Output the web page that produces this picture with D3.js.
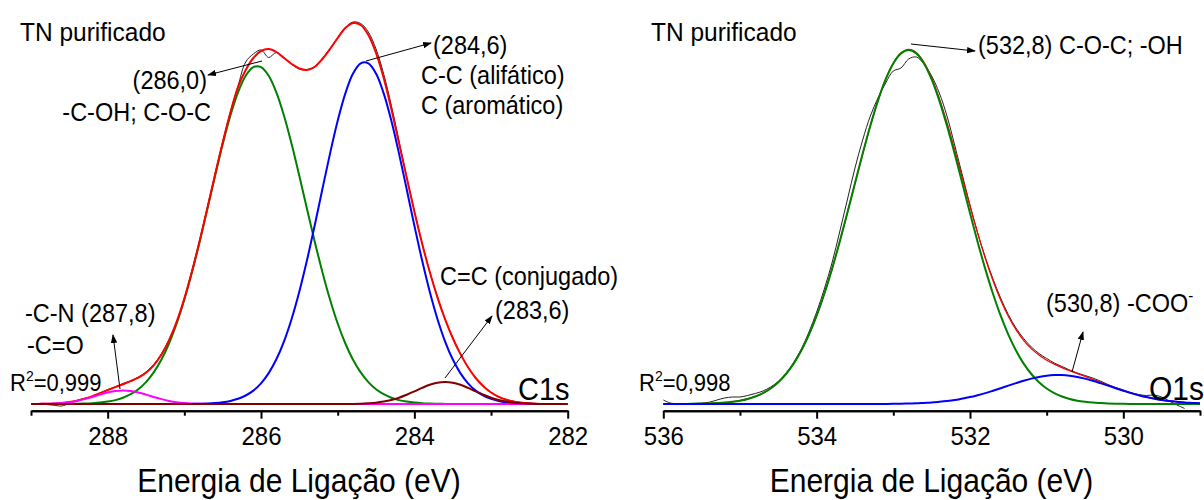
<!DOCTYPE html>
<html><head><meta charset="utf-8">
<script src="https://cdn.jsdelivr.net/npm/d3@7"></script>
<style>
body{margin:0;background:#fff}
svg{display:block}
text{font-family:"Liberation Sans",Arial,sans-serif;fill:#000}
</style>
</head><body>
<svg id="chart" width="1204" height="500"></svg>
<script>
// ---------------- DATA ----------------
// C1s panel: binding energy (eV) and intensities (a.u.)
const c1sEnergy = [289.0,288.9,288.8,288.7,288.6,288.5,288.4,288.3,288.2,288.1,
288.0,287.9,287.8,287.7,287.6,287.5,287.4,287.3,287.2,287.1,
287.0,286.9,286.8,286.7,286.6,286.5,286.4,286.3,286.2,286.1,
286.0,285.9,285.8,285.7,285.6,285.5,285.4,285.3,285.2,285.1,
285.0,284.9,284.8,284.7,284.6,284.5,284.4,284.3,284.2,284.1,
284.0,283.9,283.8,283.7,283.6,283.5,283.4,283.3,283.2,283.1,
283.0,282.9,282.8,282.7,282.6,282.5,282.4,282.3,282.2,282.1,282.0];
const c1sMeasured = [0.3,0.1,-0.5,-1.2,-2.0,0.8,3.6,5.8,7.5,10.5,
14.5,17.2,20.5,23.2,27.0,32.0,39.5,50.0,64.5,82.0,
105.0,133.5,163.5,196.5,229.5,262.0,292.0,318.0,342.0,350.0,
354.0,346.5,351.5,346.5,340.0,335.0,334.5,337.5,345.5,355.5,
366.5,376.5,382.0,380.5,372.0,355.0,330.0,298.5,263.0,227.5,
193.0,161.0,132.5,107.5,85.0,66.5,50.5,37.0,26.5,18.0,
11.8,7.5,4.5,2.8,1.5,1.0,0.5,0.3,0.2,0.1,0];
const c1sEnvelope = [0,0.1,0.2,0.5,1.0,1.9,3.4,5.4,7.8,10.8,
13.9,16.9,19.8,22.8,26.3,31.3,38.6,49.2,63.6,82.3,
105.5,132.7,163.1,195.7,229.0,261.5,291.3,316.8,334,346,
353,355,352,346,340,335.5,334,337,345,355,
366,376,381,379,369,351,326,295,260.6,226.4,
192.5,160.8,132.2,106.9,84.8,66.0,50.1,36.8,26.0,17.8,
11.5,7.1,4.2,2.3,1.2,0.6,0.2,0,0,0,0];
const c1sPeak2860 = [0,0,0,0,0,0.1,0.3,0.5,0.8,1.4,
2.4,3.9,6.3,9.8,14.8,21.9,31.6,44.3,60.5,80.5,
104.5,132.1,162.6,195.1,228.0,259.7,288.2,311.6,328.3,336.9,
336.9,328.3,311.6,288.2,259.7,228.0,195.1,162.6,132.1,104.5,
80.5,60.5,44.3,31.6,21.9,14.8,9.8,6.3,3.9,2.4,
1.4,0.8,0.5,0.3,0.1,0,0,0,0,0,
0,0,0,0,0,0,0,0,0,0,0];
const c1sPeak2846 = [0,0,0,0,0,0,0,0,0,0,
0,0,0,0,0,0,0,0,0,0,
0,0.1,0.3,0.5,1.0,1.8,3.1,5.2,8.5,13.4,
20.7,30.9,44.7,62.7,85.3,112.5,143.9,178.5,214.7,250.4,
283.2,310.6,330.4,340.7,340.7,330.4,310.6,283.2,250.4,214.7,
178.5,143.9,112.5,85.3,62.7,44.7,30.9,20.7,13.4,8.5,
5.2,3.1,1.8,1.0,0.5,0.3,0.1,0,0,0,0];
const c1sPeak2878 = [0,0.1,0.2,0.5,1.0,1.8,3.1,4.9,7.0,9.4,
11.5,13.0,13.5,13.0,11.5,9.4,7.0,4.9,3.1,1.8,
1.0,0.5,0.2,0.1,0,0,0,0,0,0,
0,0,0,0,0,0,0,0,0,0,
0,0,0,0,0,0,0,0,0,0,
0,0,0,0,0,0,0,0,0,0,
0,0,0,0,0,0,0,0,0,0,0];
const c1sPeak2836 = [0,0,0,0,0,0,0,0,0,0,
0,0,0,0,0,0,0,0,0,0,
0,0,0,0,0,0,0,0,0,0,
0,0,0,0,0,0,0,0,0,0,
0,0,0.1,0.3,0.7,1.3,2.4,4.0,6.3,9.3,
12.6,16.1,19.2,21.3,22.0,21.3,19.2,16.1,12.6,9.3,
6.3,4.0,2.4,1.3,0.7,0.3,0.1,0,0,0,0];
const c1sMajorTicks = [288,286,284,282];
const c1sMinorTicks = [289,287,285,283];

// O1s panel
const o1sEnergy = [536.0,535.9,535.8,535.7,535.6,535.5,535.4,535.3,535.2,535.1,
535.0,534.9,534.8,534.7,534.6,534.5,534.4,534.3,534.2,534.1,
534.0,533.9,533.8,533.7,533.6,533.5,533.4,533.3,533.2,533.1,
533.0,532.9,532.8,532.7,532.6,532.5,532.4,532.3,532.2,532.1,
532.0,531.9,531.8,531.7,531.6,531.5,531.4,531.3,531.2,531.1,
531.0,530.9,530.8,530.7,530.6,530.5,530.4,530.3,530.2,530.1,
530.0,529.9,529.8,529.7,529.6,529.5,529.4,529.3,529.2,529.1,529.0];
const o1sMeasured = [4.0,0.8,0.2,0.3,0.6,1.0,1.8,4.0,6.0,7.0,
7.0,8.5,10.5,13.0,17.0,22.5,30.5,41.5,55.0,72.0,
92.0,115.0,141.0,172.0,204.0,236.0,264.0,288.0,306.0,321.0,
333.0,336.0,345.0,347.0,340.0,328.0,311.0,288.0,259.0,229.0,
199.0,171.0,146.5,125.0,106.0,89.5,76.0,65.5,57.0,50.5,
45.5,41.0,37.5,34.0,31.0,28.5,26.0,23.0,19.5,16.5,
14.0,11.5,9.5,8.5,9.0,7.0,3.0,-1.0,-4.5,null,null];
const o1sEnvelope = [0,0,0.1,0.1,0.2,0.3,0.5,0.9,1.4,2.2,
3.3,5.0,7.5,10.9,15.5,21.8,30.0,40.4,53.5,69.4,
88.3,110.2,134.9,162.1,190.9,220.7,250.2,278.2,303.5,324.7,
340.8,350.9,354.5,351.3,341.7,326.1,305.6,281.2,254.2,226.1,
197.8,170.9,145.8,123.5,104.1,87.8,74.4,63.7,55.4,48.9,
43.8,39.8,36.4,33.3,30.4,27.6,24.7,21.8,18.9,16.1,
13.5,11.0,8.9,6.9,5.4,4.0,3.0,2.2,1.5,1.1,0.7];
const o1sPeak5328 = [0,0,0.1,0.1,0.2,0.3,0.5,0.9,1.4,2.2,
3.3,5.0,7.5,10.9,15.5,21.8,30.0,40.4,53.5,69.4,
88.3,110.2,134.9,162.1,190.9,220.7,250.2,278.2,303.4,324.6,
340.6,350.6,354.0,350.6,340.6,324.6,303.4,278.2,250.2,220.7,
190.9,162.1,134.9,110.2,88.3,69.4,53.5,40.4,30.0,21.8,
15.5,10.9,7.5,5.0,3.3,2.2,1.4,0.9,0.5,0.3,
0.2,0.1,0.1,0,0,0,0,0,0,0,0];
const o1sPeak5308 = [0,0,0,0,0,0,0,0,0,0,
0,0,0,0,0,0,0,0,0,0,
0,0,0,0,0,0,0,0,0.1,0.1,
0.2,0.3,0.5,0.7,1.1,1.5,2.2,3.0,4.0,5.4,
6.9,8.8,10.9,13.3,15.8,18.4,20.9,23.3,25.4,27.1,
28.3,28.9,28.9,28.3,27.1,25.4,23.3,20.9,18.4,15.8,
13.3,10.9,8.8,6.9,5.4,4.0,3.0,2.2,1.5,1.1,0.7];
const o1sMajorTicks = [536,534,532,530];
const o1sMinorTicks = [535,533,531,529];

// ---------------- DRAWING ----------------
const svg = d3.select("#chart");
svg.append("rect").attr("width",1204).attr("height",500).attr("fill","#fff");

const defs = svg.append("defs");
defs.append("marker").attr("id","arrow")
  .attr("viewBox","0 -4 9 8").attr("refX",8).attr("refY",0)
  .attr("markerWidth",9).attr("markerHeight",8)
  .attr("markerUnits","userSpaceOnUse").attr("orient","auto")
  .append("path").attr("d","M0,-3.2L9,0L0,3.2Z").attr("fill","#000");

const TALL = 1.08; // the reference glyphs are slightly taller than Arial
const y = d3.scaleLinear().domain([0,400]).range([404,4]);
const axisY = 410.7;

const xL = d3.scaleLinear().domain([289,282]).range([31,567.7]);
const xR = d3.scaleLinear().domain([536,529]).range([663.3,1200]);

function drawCurve(g, xs, energy, vals, color, width){
  const line = d3.line()
    .defined(d => d !== null)
    .x((d,i) => xs(energy[i]))
    .y(d => y(d))
    .curve(d3.curveCatmullRom.alpha(0.5));
  g.append("path").datum(vals)
    .attr("d", line)
    .attr("fill","none")
    .attr("stroke", color)
    .attr("stroke-width", width)
    .attr("stroke-linejoin","round");
}

function drawAxis(xs, major, minor){
  const g = svg.append("g").attr("transform",`translate(0,${axisY})`);
  g.call(d3.axisBottom(xs).tickValues(minor).tickSize(5).tickSizeOuter(0).tickFormat(""));
  const gm = svg.append("g").attr("transform",`translate(0,${axisY})`);
  gm.call(d3.axisBottom(xs).tickValues(major).tickSize(8).tickSizeOuter(0).tickFormat(d3.format("d")));
  [g, gm].forEach(a => {
    a.select(".domain").attr("stroke","#000").attr("stroke-width",2);
    a.selectAll(".tick line").attr("stroke","#000").attr("stroke-width",2);
  });
  gm.selectAll(".tick text")
    .attr("y", 34.5 / TALL).attr("dy", 0)
    .attr("transform", `scale(1,${TALL})`)
    .style("font-family","'Liberation Sans', Arial, sans-serif")
    .style("font-size","24px").attr("fill","#000");
}

function label(x, yy, txt, size, anchor){
  return svg.append("text")
    .attr("transform", `translate(${x},${yy}) scale(1,${TALL})`)
    .attr("text-anchor", anchor || "start")
    .style("font-size", (size||23.5) + "px").text(txt);
}
function arrow(x1,y1,x2,y2){
  svg.append("line").attr("x1",x1).attr("y1",y1).attr("x2",x2).attr("y2",y2)
    .attr("stroke","#000").attr("stroke-width",1)
    .attr("marker-end","url(#arrow)");
}

// ---- Left panel (C1s)
const gL = svg.append("g");
drawCurve(gL, xL, c1sEnergy, c1sMeasured, "#222", 1);
drawCurve(gL, xL, c1sEnergy, c1sPeak2860, "#008000", 2);
drawCurve(gL, xL, c1sEnergy, c1sPeak2846, "#0000ff", 2);
drawCurve(gL, xL, c1sEnergy, c1sEnvelope, "#ff0000", 2);
drawCurve(gL, xL, c1sEnergy, c1sPeak2878, "#ff00ff", 2);
drawCurve(gL, xL, c1sEnergy, c1sPeak2836, "#800000", 2);
drawAxis(xL, c1sMajorTicks, c1sMinorTicks);

// ---- Right panel (O1s)
const gR = svg.append("g");
drawCurve(gR, xR, o1sEnergy, o1sMeasured, "#222", 1);
drawCurve(gR, xR, o1sEnergy, o1sEnvelope, "#ff0000", 1.3);
drawCurve(gR, xR, o1sEnergy, o1sPeak5328, "#008000", 2);
drawCurve(gR, xR, o1sEnergy, o1sPeak5308, "#0000ff", 2);
drawAxis(xR, o1sMajorTicks, o1sMinorTicks);

// ---- Axis titles
label(299, 492, "Energia de Ligação (eV)", 30, "middle");
label(931.5, 492, "Energia de Ligação (eV)", 30, "middle");

// ---- Left annotations
label(20, 41, "TN purificado", 24.5);
label(207, 89, "(286,0)", 23.5, "end");
label(211, 121, "-C-OH; C-O-C", 23.5, "end");
arrow(262, 61, 208, 75);
label(433, 54, "(284,6)", 23.5);
label(421, 84, "C-C (alifático)", 23.5);
label(421, 114, "C (aromático)", 23.5);
arrow(366, 61, 431, 43);
label(440, 285, "C=C (conjugado)", 23.5);
label(495, 319, "(283,6)", 23.5);
arrow(445, 378, 492, 316);
label(25, 322, "-C-N (287,8)", 23.5);
label(27, 354, "-C=O", 23.5);
const r1 = svg.append("text").attr("transform",`translate(10,391) scale(1,${TALL})`).style("font-size","22px");
r1.append("tspan").text("R");
r1.append("tspan").attr("dy",-9).style("font-size","14px").text("2");
r1.append("tspan").attr("dy",9).text("=0,999");
arrow(120, 389, 113, 335);
label(518, 400, "C1s", 29);

// ---- Right annotations
label(651, 41, "TN purificado", 24.5);
label(978, 54, "(532,8) C-O-C; -OH", 23.5);
arrow(911, 44, 975, 51);
const t2 = svg.append("text").attr("transform",`translate(1046,312) scale(1,${TALL})`).style("font-size","23.5px");
t2.append("tspan").text("(530,8) -COO");
t2.append("tspan").attr("dy",-10).style("font-size","15px").text("-");
arrow(1072, 372, 1083, 332);
const r2 = svg.append("text").attr("transform",`translate(639,391) scale(1,${TALL})`).style("font-size","22px");
r2.append("tspan").text("R");
r2.append("tspan").attr("dy",-9).style("font-size","14px").text("2");
r2.append("tspan").attr("dy",9).text("=0,998");
label(1149, 400, "O1s", 30);
</script>
</body></html>
